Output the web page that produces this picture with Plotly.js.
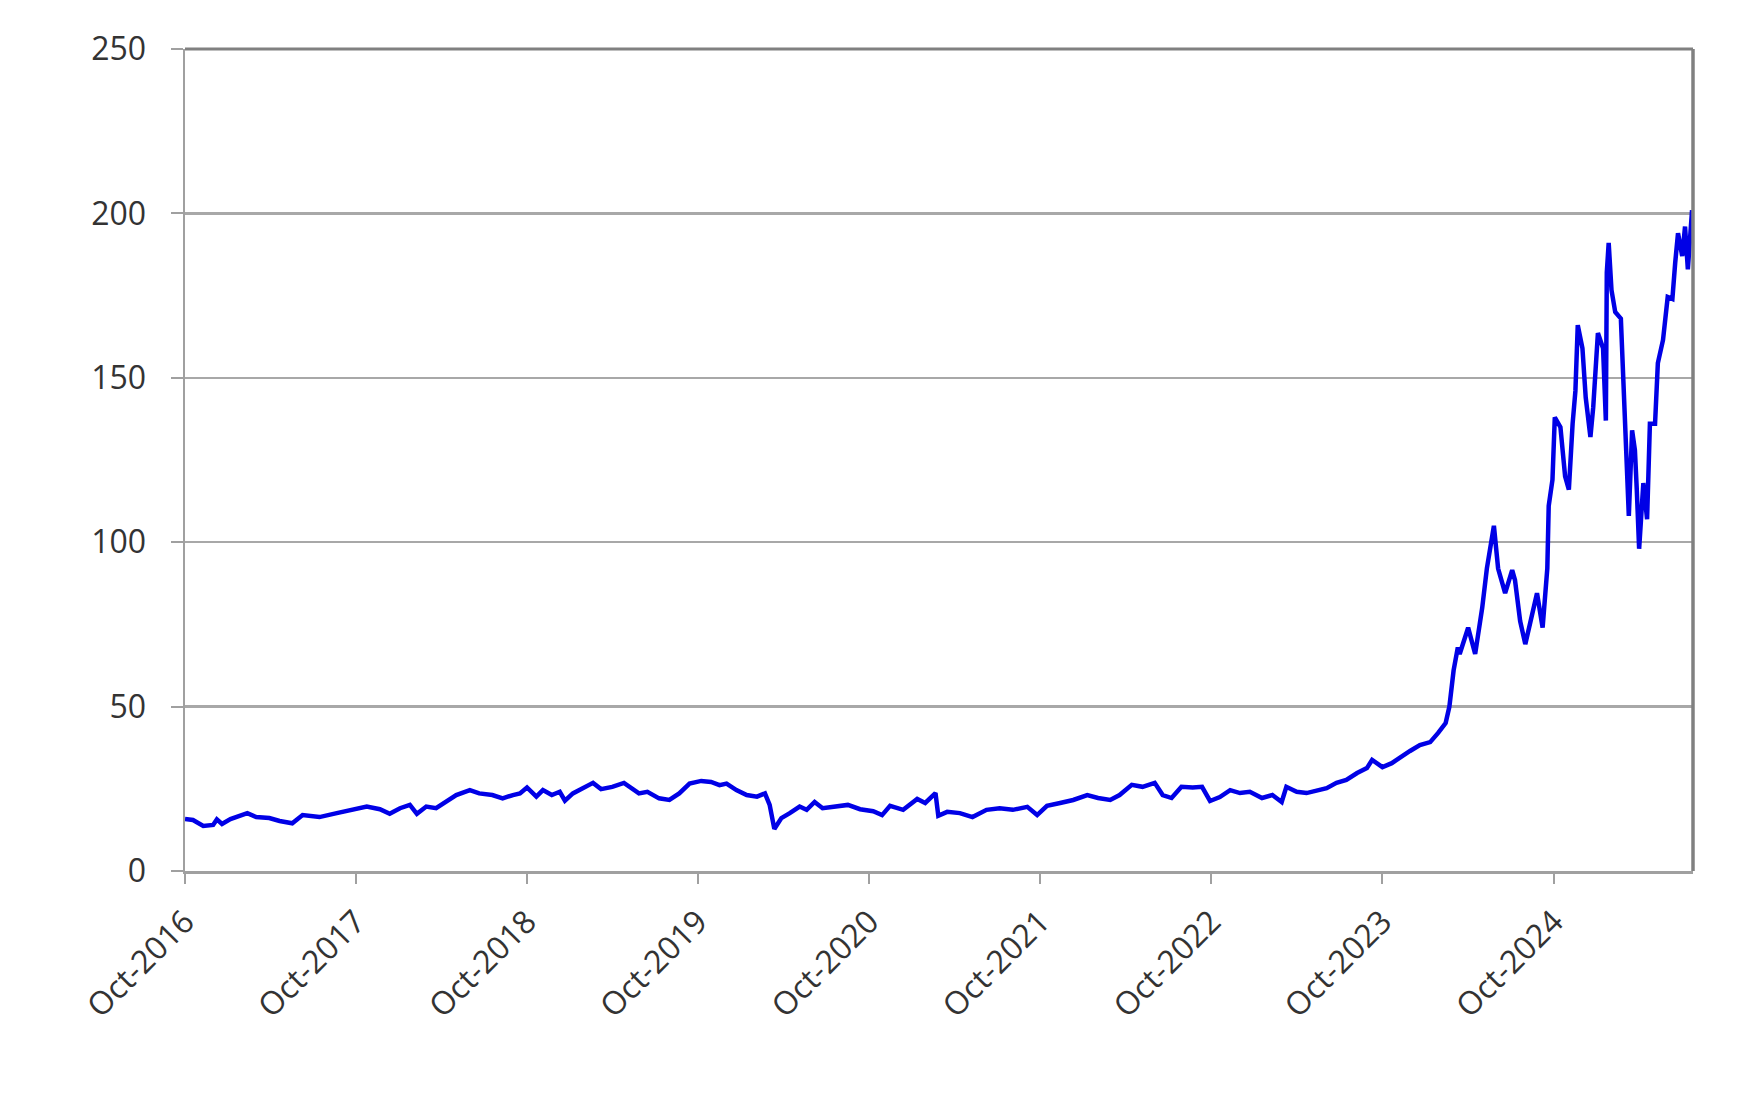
<!DOCTYPE html>
<html>
<head>
<meta charset="utf-8">
<script src="https://cdn.plot.ly/plotly-3.0.1.min.js"></script>
<style>
  html, body { margin: 0; padding: 0; background: #ffffff; }
  #chart { width: 1749px; height: 1103px; }
</style>
</head>
<body>
<div id="chart"></div>
<script>
const dates = [
  "2016-10-01","2016-10-18","2016-11-09","2016-11-30","2016-12-08","2016-12-19",
  "2017-01-06","2017-02-11","2017-03-02","2017-03-30","2017-04-21","2017-05-18",
  "2017-06-09","2017-07-15","2017-08-21","2017-09-24","2017-10-24","2017-11-21",
  "2017-12-12","2018-01-03","2018-01-24","2018-02-08","2018-02-28","2018-03-21",
  "2018-04-12","2018-05-03","2018-06-01","2018-06-21","2018-07-19","2018-08-10",
  "2018-09-01","2018-09-16","2018-10-01","2018-10-21","2018-11-04","2018-11-23",
  "2018-12-10","2018-12-21","2019-01-07","2019-01-28","2019-02-19","2019-03-08",
  "2019-04-01","2019-04-26","2019-05-13","2019-05-28","2019-06-15","2019-07-10",
  "2019-08-01","2019-08-22","2019-09-13","2019-10-08","2019-10-29","2019-11-16",
  "2019-12-01","2019-12-22","2020-01-13","2020-02-04","2020-02-21","2020-03-02",
  "2020-03-12","2020-03-27","2020-04-14","2020-05-05","2020-05-20","2020-06-06",
  "2020-06-23","2020-07-23","2020-08-16","2020-09-11","2020-10-09","2020-10-28",
  "2020-11-14","2020-12-12","2021-01-11","2021-01-28","2021-02-19","2021-02-25",
  "2021-03-16","2021-04-12","2021-05-09","2021-06-08","2021-07-06","2021-08-03",
  "2021-09-03","2021-09-24","2021-10-15","2021-11-12","2021-12-10","2022-01-09",
  "2022-02-01","2022-02-27","2022-03-19","2022-04-14","2022-05-07","2022-06-02",
  "2022-06-19","2022-07-08","2022-07-29","2022-08-22","2022-09-11","2022-09-28",
  "2022-10-19","2022-11-10","2022-12-01","2022-12-22","2023-01-17","2023-02-08",
  "2023-02-28","2023-03-10","2023-04-01","2023-04-22","2023-05-13","2023-06-04",
  "2023-06-25","2023-07-16","2023-08-08","2023-08-29","2023-09-09","2023-10-01",
  "2023-10-21","2023-11-08","2023-11-29","2023-12-20","2024-01-11","2024-01-28",
  "2024-02-13","2024-02-21","2024-03-01","2024-03-10","2024-03-14","2024-04-01",
  "2024-04-16","2024-05-01","2024-05-11","2024-05-26","2024-06-04","2024-06-19",
  "2024-07-04","2024-07-10","2024-07-21","2024-08-01","2024-08-16","2024-08-26",
  "2024-09-07","2024-09-17","2024-09-20","2024-09-28","2024-10-03","2024-10-15",
  "2024-10-25","2024-11-02","2024-11-10","2024-11-16","2024-11-21","2024-12-01",
  "2024-12-08","2024-12-18","2024-12-24","2025-01-03","2025-01-14","2025-01-20",
  "2025-01-22","2025-01-26","2025-02-01","2025-02-09","2025-02-21","2025-02-28",
  "2025-03-06","2025-03-10","2025-03-17","2025-03-23","2025-03-27","2025-04-01",
  "2025-04-10","2025-04-18","2025-04-24","2025-05-05","2025-05-11","2025-05-22",
  "2025-06-01","2025-06-11","2025-06-17","2025-06-23","2025-07-02","2025-07-08",
  "2025-07-14","2025-07-23"
];

const values = [
  15.8,15.5,13.7,14.0,15.7,14.3,
  15.8,17.6,16.4,16.1,15.2,14.5,
  17.0,16.4,17.6,18.6,19.6,18.8,
  17.4,19.1,20.1,17.4,19.6,19.1,
  21.0,23.1,24.6,23.6,23.1,22.1,
  23.1,23.6,25.4,22.6,24.6,23.1,
  24.1,21.4,23.6,25.2,26.8,24.9,
  25.6,26.8,25.2,23.6,24.1,22.1,
  21.6,23.6,26.6,27.4,27.1,26.1,
  26.6,24.6,23.1,22.6,23.6,20.1,
  12.8,16.1,17.6,19.6,18.6,21.0,
  19.1,19.6,20.1,18.8,18.2,17.0,
  19.8,18.6,21.9,20.7,23.7,16.8,
  18.0,17.6,16.4,18.6,19.1,18.6,
  19.5,17.0,19.8,20.7,21.6,23.1,
  22.2,21.6,23.1,26.2,25.6,26.8,
  23.1,22.2,25.6,25.4,25.6,21.3,
  22.5,24.6,23.7,24.1,22.2,23.1,
  21.0,25.6,24.1,23.7,24.6,25.2,
  26.8,27.7,29.8,31.3,33.8,31.6,
  32.8,34.7,36.5,38.3,39.2,42.0,
  45.0,50.0,61.0,68.0,66.0,74.0,
  66.0,80.0,92.0,105.0,92.0,84.5,
  91.5,88.5,76.0,69.0,78.0,84.5,
  74.0,92.0,111.0,119.0,138.0,135.0,
  120.0,116.0,136.0,146.0,166.0,159.0,
  144.0,132.0,141.0,163.6,159.0,137.0,
  182.0,191.0,176.7,170.0,168.0,146.0,
  126.0,108.0,134.0,128.0,116.0,98.0,
  118.0,107.0,136.0,136.0,154.5,161.5,
  174.6,174.0,185.0,194.0,187.0,196.0,
  183.0,201.0
];

const tickDates = ["2016-10-01","2017-10-01","2018-10-01","2019-10-01","2020-10-01","2021-10-01","2022-10-01","2023-10-01","2024-10-01"];
const tickLabels = ["Oct-2016","Oct-2017","Oct-2018","Oct-2019","Oct-2020","Oct-2021","Oct-2022","Oct-2023","Oct-2024"];
const yTicks = [0, 50, 100, 150, 200, 250];

const trace = {
  x: dates,
  y: values,
  type: "scatter",
  mode: "lines",
  line: { color: "#0000e6", width: 4.5 },
  hoverinfo: "x+y"
};

const fontSpec = { family: "Open Sans, Noto Sans, sans-serif", size: 32, color: "#333333" };

const layout = {
  width: 1749,
  height: 1103,
  margin: { l: 185, r: 56, t: 49, b: 232 },
  paper_bgcolor: "#ffffff",
  plot_bgcolor: "#ffffff",
  showlegend: false,
  xaxis: {
    type: "date",
    range: ["2016-10-01", "2025-07-25"],
    tickmode: "array",
    tickvals: tickDates,
    ticktext: tickLabels,
    tickangle: -45,
    ticks: "outside",
    ticklen: 10,
    tickwidth: 2,
    tickcolor: "#a0a0a0",
    tickfont: fontSpec,
    showgrid: false,
    zeroline: false,
    showline: true,
    linecolor: "#a0a0a0",
    linewidth: 3,
    ticklabelstandoff: 6
  },
  yaxis: {
    range: [0, 250],
    tickmode: "array",
    tickvals: yTicks,
    ticktext: yTicks.map(String),
    ticks: "outside",
    ticklen: 12,
    tickwidth: 2,
    tickcolor: "#a0a0a0",
    tickfont: fontSpec,
    showgrid: true,
    gridcolor: "#a8a8a8",
    gridwidth: 2.5,
    zeroline: false,
    showline: true,
    linecolor: "#a0a0a0",
    linewidth: 2.5,
    ticklabelstandoff: 18
  },
  shapes: [
    { type: "line", xref: "paper", yref: "paper", x0: 1, x1: 1, y0: 0, y1: 1,
      line: { color: "#808080", width: 3.5 } },
    { type: "line", xref: "paper", yref: "paper", x0: 0, x1: 1, y0: 1, y1: 1,
      line: { color: "#808080", width: 3 } }
  ]
};

Plotly.newPlot("chart", [trace], layout, { displayModeBar: false, staticPlot: true });
</script>
</body>
</html>
